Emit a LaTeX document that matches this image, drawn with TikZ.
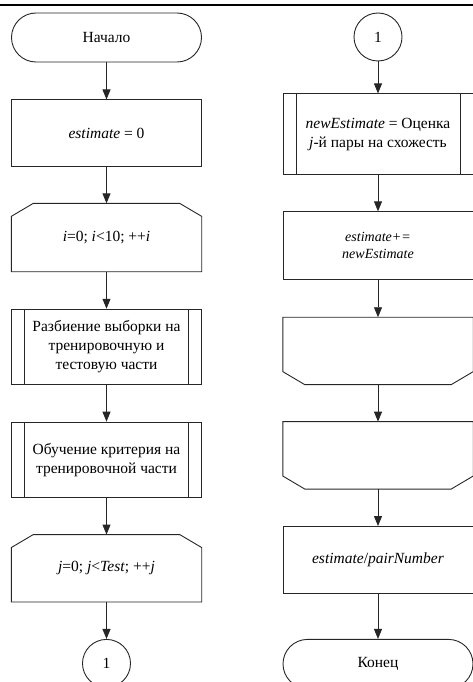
\documentclass[tikz,border=0pt]{standalone}
\usepackage{fontspec}
\setmainfont{Liberation Serif}
\usetikzlibrary{positioning,arrows.meta}

\begin{document}
\begin{tikzpicture}[
                x=1pt, y=1pt,
                every node/.style={font=\fontsize{15.5}{19}\selectfont, align=center, inner sep=2pt},
                line/.style={line width=0.9pt, draw=black!85},
                block/.style={line, rectangle, minimum width=190pt, minimum height=67pt},
                term/.style={block, minimum height=49pt, rounded corners=24.5pt},
                conn/.style={line, circle, minimum size=48pt, inner sep=0pt},
                predef/.style={block, path picture={
                        \draw[line] ([xshift=13pt]path picture bounding box.north west) -- ([xshift=13pt]path picture bounding box.south west);
                        \draw[line] ([xshift=-13pt]path picture bounding box.north east) -- ([xshift=-13pt]path picture bounding box.south east);
                    }},
                loopbegin/.style={rectangle, minimum width=190pt, minimum height=67pt,
                        append after command={\pgfextra{
                            \draw[line] ([xshift=22pt]\tikzlastnode.north west) -- ([xshift=-22pt]\tikzlastnode.north east)
                                -- ([yshift=-13pt]\tikzlastnode.north east) -- (\tikzlastnode.south east)
                                -- (\tikzlastnode.south west) -- ([yshift=-13pt]\tikzlastnode.north west) -- cycle;
                        }}},
                loopend/.style={rectangle, minimum width=190pt, minimum height=67pt,
                        append after command={\pgfextra{
                            \draw[line] (\tikzlastnode.north west) -- (\tikzlastnode.north east)
                                -- ([yshift=13pt]\tikzlastnode.south east) -- ([xshift=-22pt]\tikzlastnode.south east)
                                -- ([xshift=22pt]\tikzlastnode.south west) -- ([yshift=13pt]\tikzlastnode.south west) -- cycle;
                        }}},
                arrow/.style={line, -{Triangle[width=8pt,length=10pt]}}
            ]

            \useasboundingbox (0,0) rectangle (473,-682);
            \draw[line width=2pt] (0,-5) -- (473,-5);

            % left column
            \node[term] (start) at (106.5,-37.5) {Начало};
            \node[block, below=37pt of start] (init) {\textit{estimate} = 0};
            \node[loopbegin, minimum height=68pt, below=36pt of init] (loopi) {\textit{i}=0; \textit{i}<10; ++\textit{i}};
            \node[predef, minimum height=75pt, below=37pt of loopi] (split) {Разбиение выборки на\\тренировочную и\\тестовую части};
            \node[predef, minimum height=75pt, below=37pt of split] (train) {Обучение критерия на\\тренировочной части};
            \node[loopbegin, below=37pt of train] (loopj) {\textit{j}=0; \textit{j}<\textit{Test}; ++\textit{j}};
            \node[conn, below=37pt of loopj] (outA) {1};

            % right column
            \node[conn] (inA) at (378,-37) {1};
            \node[predef, minimum height=81pt, below=32pt of inA] (compare) {\textit{newEstimate} = Оценка\\\textit{j}-й пары на схожесть};
            \node[block, minimum height=68pt, below=36pt of compare, font=\fontsize{14}{17}\selectfont] (accum) {\textit{estimate+=}\\\textit{newEstimate}};
            \node[loopend, below=37pt of accum] (endj) {};
            \node[loopend, below=37pt of endj] (endi) {};
            \node[block, below=37pt of endi] (result) {\textit{estimate}/\textit{pairNumber}};
            \node[term, below=45pt of result] (stop) {Конец};

            \draw[arrow] (start) -- (init);
            \draw[arrow] (init) -- (loopi);
            \draw[arrow] (loopi) -- (split);
            \draw[arrow] (split) -- (train);
            \draw[arrow] (train) -- (loopj);
            \draw[arrow] (loopj) -- (outA);

            \draw[arrow] (inA) -- (compare);
            \draw[arrow] (compare) -- (accum);
            \draw[arrow] (accum) -- (endj);
            \draw[arrow] (endj) -- (endi);
            \draw[arrow] (endi) -- (result);
            \draw[arrow] (result) -- (stop);

        \end{tikzpicture}
\end{document}
